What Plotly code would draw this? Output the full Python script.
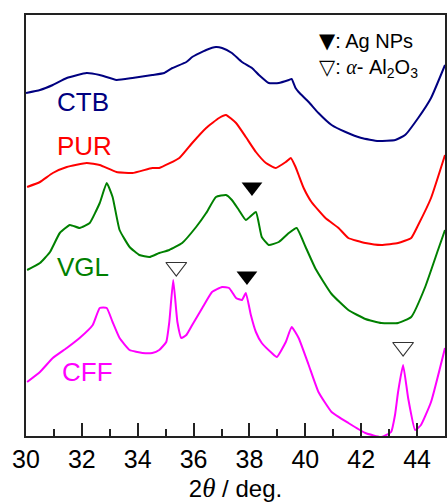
import plotly.graph_objects as go

# 2theta (deg) and intensity (a.u.)
ctb_x = [30.00, 30.50, 30.96, 31.46, 32.17, 32.64, 33.24, 33.81, 34.52, 34.95, 35.24, 35.74, 35.95,
         36.45, 36.80, 37.02, 37.37, 37.73, 38.09, 38.34, 38.69, 39.05, 39.41, 39.51, 39.65, 39.76,
         40.12, 40.47, 40.94, 41.44, 42.01, 42.61, 43.22, 43.57, 44.04, 44.50, 45.00]
ctb_y = [343, 346, 351, 358, 363, 361, 356, 358, 361, 363, 368, 374, 379,
         386, 389, 388, 383, 374, 368, 361, 353, 353, 356, 357, 348, 344,
         334, 323, 311, 304, 298, 295, 296, 301, 318, 338, 371]

pur_x = [30.04, 30.50, 30.96, 31.46, 32.17, 32.64, 33.24, 33.81, 34.52, 34.77, 35.49, 35.95, 36.45,
         36.91, 37.16, 37.52, 37.87, 38.23, 38.59, 38.94, 39.30, 39.48, 39.65, 39.76, 39.94, 40.22,
         40.72, 41.19, 41.54, 42.15, 42.72, 43.32, 43.79, 44.04, 44.50, 45.00]
pur_y = [249, 254, 263, 269, 273, 271, 264, 263, 268, 268, 278, 293, 308,
         318, 321, 313, 299, 284, 273, 268, 274, 278, 269, 261, 248, 234,
         218, 208, 198, 193, 191, 193, 198, 211, 238, 281]

vgl_x = [30.04, 30.50, 30.86, 31.21, 31.57, 31.92, 32.28, 32.64, 32.89, 33.10, 33.35, 33.71, 34.06,
         34.42, 34.77, 35.13, 35.59, 36.09, 36.45, 36.80, 37.16, 37.37, 37.62, 37.87, 38.23, 38.44,
         38.69, 39.05, 39.41, 39.69, 40.01, 40.37, 40.94, 41.54, 42.15, 42.72, 43.32, 43.79, 44.29,
         44.75, 45.00]
vgl_y = [166, 173, 184, 203, 211, 208, 213, 233, 253, 239, 206, 189, 181,
         179, 183, 186, 193, 209, 223, 239, 241, 236, 226, 216, 224, 199,
         191, 194, 203, 208, 189, 167, 142, 126, 117, 113, 113, 119, 149,
         186, 206]

cff_x = [30.04, 30.50, 30.96, 31.46, 31.92, 32.39, 32.64, 32.89, 33.10, 33.35, 33.71, 34.17, 34.52,
         34.77, 35.02, 35.13, 35.27, 35.42, 35.56, 35.74, 35.95, 36.31, 36.66, 37.02, 37.27, 37.52,
         37.73, 37.87, 38.05, 38.23, 38.44, 38.80, 38.98, 39.30, 39.51, 39.76, 40.12, 40.47, 40.94,
         41.54, 42.15, 42.72, 43.07, 43.21, 43.32, 43.50, 43.68, 43.93, 44.14, 44.50, 45.00]
cff_y = [54, 64, 78, 88, 98, 111, 128, 128, 114, 98, 86, 83, 83,
         86, 94, 114, 156, 114, 98, 101, 111, 128, 144, 149, 148, 138,
         136, 143, 121, 104, 93, 83, 79, 94, 109, 98, 71, 44, 24,
         13, 3, -1, 4, 21, 44, 71, 38, 6, 11, 34, 88]

series_names = ["CTB", "PUR", "VGL", "CFF"]
series_colors = ["#000080", "#ff0000", "#008000", "#ff00ff"]
label_pos = [(31.03, 334), (31.03, 290), (31.03, 169), (31.21, 64)]

# peak marks
ag_x = [38.09, 37.91]
ag_y = [249, 160]
al_x = [35.38, 43.50]
al_y = [169, 89]

xs = [ctb_x, pur_x, vgl_x, cff_x]
ys = [ctb_y, pur_y, vgl_y, cff_y]

fig = go.Figure()
for name, col, x, y in zip(series_names, series_colors, xs, ys):
    fig.add_trace(go.Scatter(x=x, y=y, mode="lines", name=name,
                             line=dict(color=col, width=2, shape="spline", smoothing=0.4),
                             showlegend=False))

fig.add_trace(go.Scatter(x=ag_x, y=ag_y, mode="markers", showlegend=False,
                         marker=dict(symbol="triangle-down", size=18, color="black")))
fig.add_trace(go.Scatter(x=al_x, y=al_y, mode="markers", showlegend=False,
                         marker=dict(symbol="triangle-down-open", size=18, color="#333333",
                                     line=dict(width=1.2))))

for name, col, (lx, ly) in zip(series_names, series_colors, label_pos):
    fig.add_annotation(x=lx, y=ly, xref="x", yref="y", text=name, showarrow=False,
                       xanchor="left", yanchor="middle",
                       font=dict(family="Liberation Sans, Arial", size=26, color=col))

W, H = 448, 504
ml, mr, mt, mb = 26, 1, 15, 68
pw, ph = W - ml - mr, H - mt - mb

tri_style = "font-family:'DejaVu Sans';font-size:21px"
legend_text = (f"<span style=\"{tri_style}\">▼</span>: Ag NPs<br>"
               f"<span style=\"{tri_style}\">▽</span>: "
               "<span style=\"font-family:'Liberation Serif'\"><i>α</i></span>- Al<sub>2</sub>O<sub>3</sub>")
fig.add_annotation(x=(318 - ml) / pw, y=1 - (55 - mt) / ph, xref="paper", yref="paper",
                   text=legend_text, showarrow=False, xanchor="left", yanchor="middle", align="left",
                   font=dict(family="Liberation Sans, Arial", size=20, color="black"))

fig.update_layout(
    width=W, height=H,
    margin=dict(l=ml, r=mr, t=mt, b=mb),
    paper_bgcolor="white", plot_bgcolor="white",
    font=dict(family="Liberation Sans, Arial", color="black"),
    xaxis=dict(range=[30, 45], dtick=2, tick0=30, ticks="inside", ticklen=13, tickwidth=2,
               tickcolor="#222", showline=True, linewidth=2, linecolor="#222", mirror=True,
               showgrid=False, zeroline=False, tickfont=dict(size=25),
               minor=dict(dtick=1, ticks="inside", ticklen=7, tickwidth=2, tickcolor="#222"),
               title=dict(text="2<span style=\"font-family:'Liberation Serif';font-size:27px\"><i>θ</i></span> / deg.",
                          font=dict(size=24), standoff=8)),
    yaxis=dict(range=[0, 421], showticklabels=False, ticks="", showline=True, linewidth=2,
               linecolor="#222", mirror=True, showgrid=False, zeroline=False),
)

fig.write_html("out.html")
